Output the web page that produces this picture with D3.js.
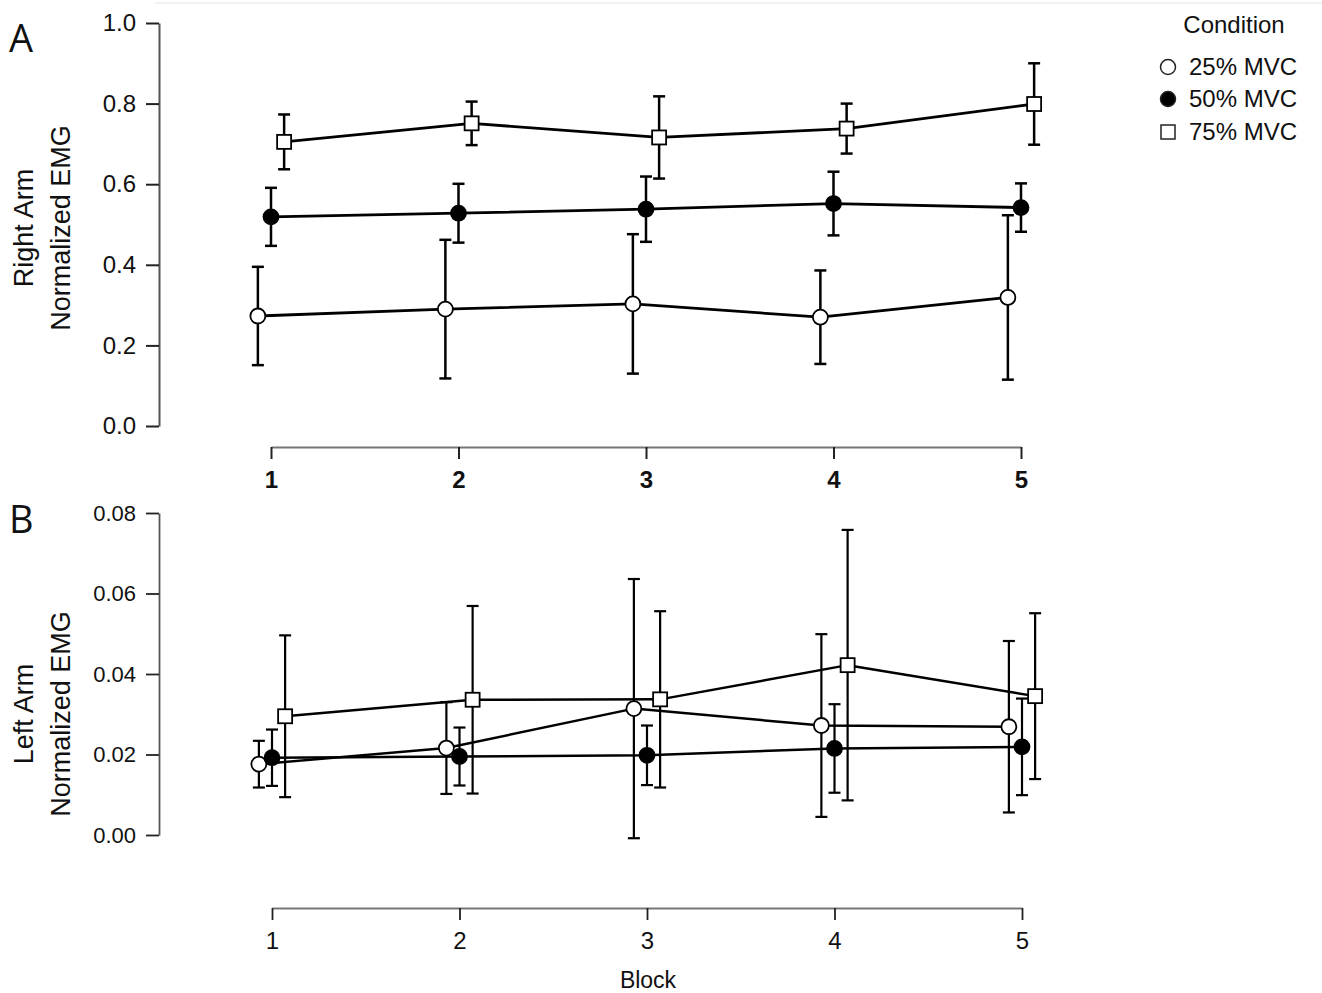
<!DOCTYPE html>
<html>
<head>
<meta charset="utf-8">
<script src="https://cdn.jsdelivr.net/npm/d3@7"></script>
<style>
  body { margin: 0; background: #fff; }
  svg { display: block; font-family: "Liberation Sans", Arial, sans-serif; }
</style>
</head>
<body>
<div id="chart"></div>
<script>
// Data (mean and error-bar half width)
var blocks = [1, 2, 3, 4, 5];
var conditions = ["25% MVC", "50% MVC", "75% MVC"];
var dodge = [-0.07, 0, 0.07];

var rightMean25 = [0.273, 0.290, 0.303, 0.270, 0.319];
var rightErr25  = [0.122, 0.172, 0.173, 0.116, 0.204];
var rightMean50 = [0.519, 0.528, 0.538, 0.552, 0.542];
var rightErr50  = [0.072, 0.073, 0.081, 0.079, 0.060];
var rightMean75 = [0.705, 0.751, 0.716, 0.738, 0.799];
var rightErr75  = [0.068, 0.054, 0.102, 0.062, 0.101];

var leftMean25 = [0.0176, 0.0216, 0.0314, 0.0272, 0.0269];
var leftErr25  = [0.0058, 0.0114, 0.0322, 0.0227, 0.0213];
var leftMean50 = [0.0192, 0.0195, 0.0198, 0.0215, 0.0219];
var leftErr50  = [0.0070, 0.0072, 0.0074, 0.0110, 0.0120];
var leftMean75 = [0.0295, 0.0336, 0.0337, 0.0422, 0.0345];
var leftErr75  = [0.0201, 0.0233, 0.0219, 0.0336, 0.0206];

var rightTicks = [0, 0.2, 0.4, 0.6, 0.8, 1.0];
var leftTicks = [0, 0.02, 0.04, 0.06, 0.08];

var svg = d3.select("#chart").append("svg")
    .attr("width", 1322)
    .attr("height", 993);

// faint rule at the very top
svg.append("line")
   .attr("x1", 155).attr("x2", 1322).attr("y1", 3).attr("y2", 3)
   .attr("stroke", "#eeeeee").attr("stroke-width", 1.5);

function makeSeries(means, errs) {
  return blocks.map(function(b, i) { return { block: b, mean: means[i], err: errs[i] }; });
}

function drawPanel(cfg) {
  var x = d3.scaleLinear().domain([1, 5]).range(cfg.xRange);
  var y = d3.scaleLinear().domain(cfg.yDomain).range(cfg.yRange);

  // Y axis
  var yAxis = svg.append("g")
     .attr("transform", "translate(" + cfg.yAxisX + ",0)")
     .call(d3.axisLeft(y).tickValues(cfg.yTicks).tickFormat(d3.format(cfg.yFormat))
           .tickSize(13).tickSizeOuter(0).tickPadding(10));
  yAxis.select(".domain").attr("stroke", "#555").attr("stroke-width", cfg.axisWidth);
  yAxis.selectAll(".tick line").attr("stroke", "#222").attr("stroke-width", cfg.axisWidth);
  yAxis.selectAll("text").attr("font-size", cfg.yFont).attr("fill", "#111")
       .attr("font-family", "Liberation Sans, Arial, sans-serif");

  // X axis
  var xAxis = svg.append("g")
     .attr("transform", "translate(0," + cfg.xAxisY + ")")
     .call(d3.axisBottom(x).tickValues(blocks).tickFormat(d3.format("d"))
           .tickSize(12).tickSizeOuter(0).tickPadding(12));
  xAxis.select(".domain").attr("stroke", "#777").attr("stroke-width", cfg.axisWidth);
  xAxis.selectAll(".tick line").attr("stroke", "#222").attr("stroke-width", cfg.axisWidth);
  xAxis.selectAll("text").attr("font-size", 24).attr("fill", "#111")
       .attr("font-weight", cfg.xBold ? "bold" : "normal")
       .attr("font-family", "Liberation Sans, Arial, sans-serif");

  // Y axis titles
  var midY = cfg.titleY;
  svg.append("text")
     .attr("transform", "translate(33," + midY + ") rotate(-90)")
     .attr("text-anchor", "middle").attr("font-size", 27).attr("fill", "#111")
     .text(cfg.title1);
  svg.append("text")
     .attr("transform", "translate(70," + midY + ") rotate(-90)")
     .attr("text-anchor", "middle").attr("font-size", 27).attr("fill", "#111")
     .text(cfg.title2);

  // Panel letter
  svg.append("text")
     .attr("x", 9).attr("y", cfg.letterY)
     .attr("font-family", "Open Sans, sans-serif").attr("font-size", 38).attr("fill", "#111")
     .text(cfg.letter);

  var g = svg.append("g");

  // lines
  cfg.series.forEach(function(s, k) {
    g.append("path")
     .datum(s)
     .attr("fill", "none")
     .attr("stroke", "#000")
     .attr("stroke-width", cfg.lineWidth)
     .attr("stroke-linejoin", "round")
     .attr("d", d3.line()
        .x(function(d) { return x(d.block + dodge[k]); })
        .y(function(d) { return y(d.mean); }));
  });

  // error bars
  cfg.series.forEach(function(s, k) {
    s.forEach(function(d) {
      var cx = x(d.block + dodge[k]);
      var top = y(d.mean + d.err), bot = y(d.mean - d.err);
      g.append("line").attr("x1", cx).attr("x2", cx).attr("y1", top).attr("y2", bot)
       .attr("stroke", "#000").attr("stroke-width", cfg.barWidth);
      g.append("line").attr("x1", cx - 6).attr("x2", cx + 6).attr("y1", top).attr("y2", top)
       .attr("stroke", "#000").attr("stroke-width", cfg.barWidth);
      g.append("line").attr("x1", cx - 6).attr("x2", cx + 6).attr("y1", bot).attr("y2", bot)
       .attr("stroke", "#000").attr("stroke-width", cfg.barWidth);
    });
  });

  // markers
  cfg.series.forEach(function(s, k) {
    s.forEach(function(d) {
      var cx = x(d.block + dodge[k]), cy = y(d.mean);
      if (k === 2) {
        g.append("rect").attr("x", cx - 7).attr("y", cy - 7).attr("width", 14).attr("height", 14)
         .attr("fill", "#fff").attr("stroke", "#000").attr("stroke-width", 1.8);
      } else {
        g.append("circle").attr("cx", cx).attr("cy", cy).attr("r", 7.5)
         .attr("fill", k === 1 ? "#000" : "#fff").attr("stroke", "#000").attr("stroke-width", 1.8);
      }
    });
  });
}

drawPanel({
  letter: "A", letterY: 52,
  xRange: [271, 1021], yDomain: [0, 1], yRange: [426, 23],
  yAxisX: 159, xAxisY: 447, yTicks: rightTicks, yFormat: ".1f", yFont: 24,
  xBold: true, axisWidth: 2, lineWidth: 2.8, barWidth: 2.5,
  title1: "Right Arm", title2: "Normalized EMG", titleY: 228,
  series: [makeSeries(rightMean25, rightErr25), makeSeries(rightMean50, rightErr50), makeSeries(rightMean75, rightErr75)]
});

drawPanel({
  letter: "B", letterY: 533,
  xRange: [272, 1022], yDomain: [0, 0.08], yRange: [835, 513],
  yAxisX: 159, xAxisY: 908, yTicks: leftTicks, yFormat: ".2f", yFont: 22,
  xBold: false, axisWidth: 1.8, lineWidth: 2.5, barWidth: 2.2,
  title1: "Left Arm", title2: "Normalized EMG", titleY: 714,
  series: [makeSeries(leftMean25, leftErr25), makeSeries(leftMean50, leftErr50), makeSeries(leftMean75, leftErr75)]
});

// x axis label
svg.append("text")
   .attr("x", 648).attr("y", 988)
   .attr("text-anchor", "middle").attr("font-size", 23).attr("fill", "#111")
   .text("Block");

// Legend
var legend = svg.append("g");
legend.append("text")
   .attr("x", 1234).attr("y", 33)
   .attr("text-anchor", "middle").attr("font-size", 24).attr("fill", "#111")
   .text("Condition");
var legendY = [67, 99, 132];
conditions.forEach(function(c, k) {
  var ly = legendY[k];
  if (k === 2) {
    legend.append("rect").attr("x", 1161).attr("y", ly - 7).attr("width", 14).attr("height", 14)
      .attr("fill", "#fff").attr("stroke", "#222").attr("stroke-width", 1.5);
  } else {
    legend.append("circle").attr("cx", 1168).attr("cy", ly).attr("r", 7.5)
      .attr("fill", k === 1 ? "#000" : "#fff").attr("stroke", "#222").attr("stroke-width", 1.5);
  }
  legend.append("text")
     .attr("x", 1189).attr("y", ly + 8)
     .attr("font-size", 24).attr("fill", "#111")
     .text(c);
});
</script>
</body>
</html>
